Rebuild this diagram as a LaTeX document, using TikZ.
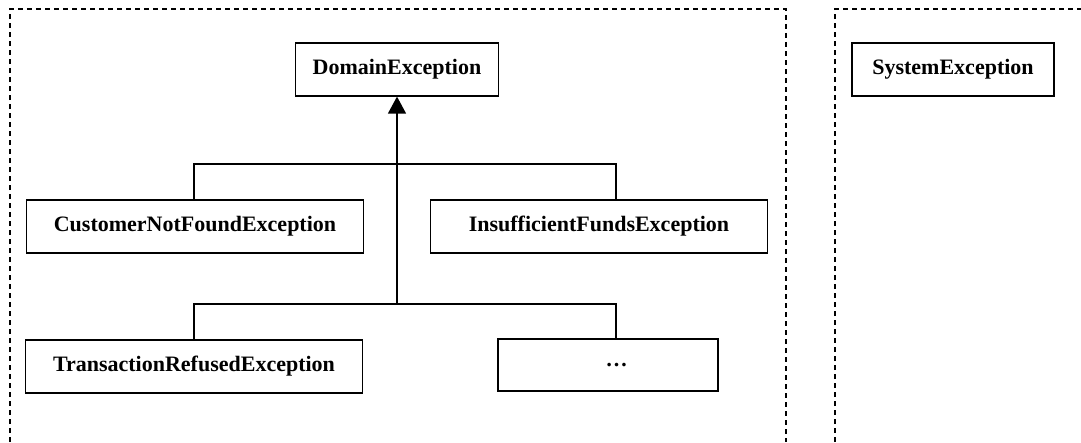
\documentclass[tikz,border=0pt]{standalone}
\usepackage{fontspec}
\setmainfont{Liberation Serif}
\usetikzlibrary{arrows.meta}
\begin{document}
\begin{tikzpicture}[x=1pt,y=-1pt,
  cls/.style={draw,line width=1.2pt,inner sep=0pt,minimum height=53pt,font=\fontsize{22}{26}\selectfont\bfseries},
  frame/.style={draw,line width=1.1pt,dash pattern=on 5pt off 4pt},
  link/.style={draw,line width=1.3pt}]
\useasboundingbox (0,0) rectangle (1081,442);
% package frames
\draw[frame] (10,442) -- (10,9) -- (786,9) -- (786,442);
\draw[frame] (835,442) -- (835,9) -- (1081,9);
% classes
\node[cls,minimum width=203pt] (dom) at (397,69.5) {DomainException};
\node[cls,minimum width=202pt] (sys) at (953,69.5) {SystemException};
\node[cls,minimum width=337pt] (cnf) at (195,226.5) {CustomerNotFoundException};
\node[cls,minimum width=337pt] (ins) at (599,226.5) {InsufficientFundsException};
\node[cls,minimum width=337pt] (trx) at (194,366.5) {TransactionRefusedException};
\node[cls,minimum width=220pt,minimum height=52pt] (etc) at (608,365) {\hspace*{17pt}…};
% connectors
\coordinate (j1) at (397,164);
\coordinate (j2) at (397,304);
\draw[link] ([xshift=-1pt]cnf.north) |- (j1) -| ([xshift=17pt]ins.north);
\draw[link] (trx.north) |- (j2) -| ([xshift=8pt]etc.north);
\draw[link,-{Triangle[width=18pt,length=17pt]}] (j2) -- (dom.south);
\end{tikzpicture}
\end{document}
